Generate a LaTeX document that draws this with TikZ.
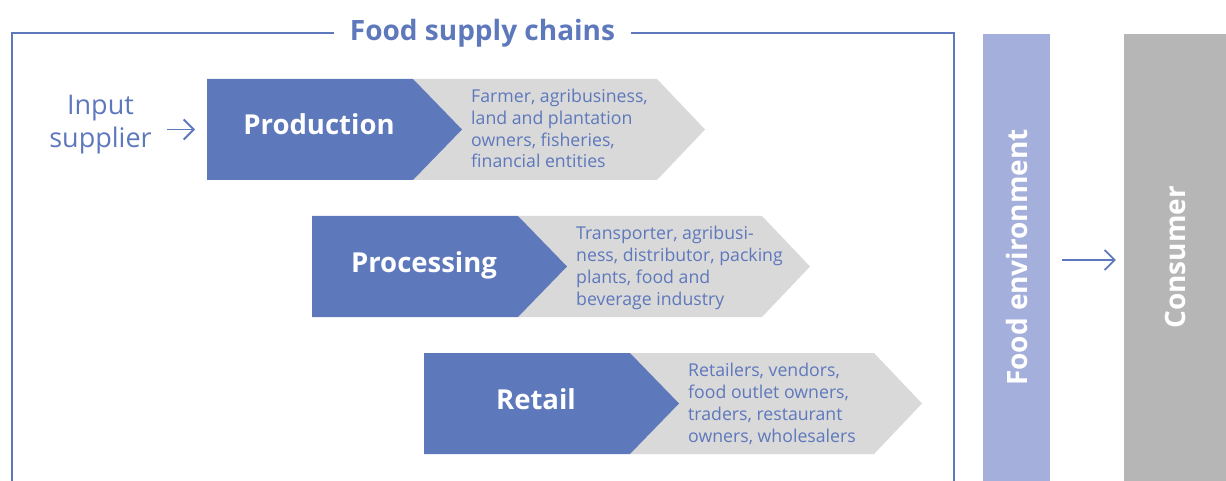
\documentclass[tikz,border=0pt]{standalone}
\usepackage{fontspec}
\setmainfont{Open Sans}
\usetikzlibrary{arrows.meta}

\definecolor{chainblue}{HTML}{5E78BC}
\definecolor{stagegray}{HTML}{D9D9D9}
\definecolor{envblue}{HTML}{A5AFDB}
\definecolor{consgray}{HTML}{B5B6B5}

% one stage: blue chevron with its name, grey chevron with the actors
% #1 = left x, #2 = top y, #3 = node name, #4 = stage name, #5 = actors
\newcommand\chainstage[5]{%
  \fill[stagegray] (#1+206,#2) -- (#1+450,#2) -- (#1+498,#2+50.5)
     -- (#1+450,#2+101) -- (#1+206,#2+101) -- cycle;
  \fill[chainblue] (#1,#2) -- (#1+206,#2) -- (#1+255,#2+50.5)
     -- (#1+206,#2+101) -- (#1,#2+101) -- cycle;
  \coordinate (#3-in) at (#1,#2+50.5);
  \node[stagetitle] (#3) at (#1+112,#2+56) {#4};
  % base of a multi-line node is the baseline of its last line
  \node[stagedesc] (#3-desc) at (#1+264,#2+89) {#5};
}

\begin{document}
\begin{tikzpicture}[x=1pt,y=-1pt,
  stagetitle/.style={anchor=base,inner sep=0pt,text=white,
    font=\fontsize{27.5}{33}\selectfont\bfseries},
  stagedesc/.style={anchor=base west,inner sep=0pt,align=left,text=chainblue,
    font=\fontsize{17.7}{21.7}\selectfont},
  frameline/.style={draw=chainblue,line width=1.8pt},
  flow/.style={draw=chainblue,line width=1.8pt,
    -{Straight Barb[length=10pt,width=20pt,line width=1.8pt]}},
  bar/.style={inner sep=0pt,text=white,minimum height=447pt,
    font=\fontsize{28}{33}\selectfont\bfseries}]
\useasboundingbox (0,0) rectangle (1226,481);

% frame around the supply chain, open at the bottom
\node[anchor=base,inner xsep=16pt,inner ysep=0pt,text=chainblue,
  font=\fontsize{28}{33}\selectfont\bfseries] (title) at (482.5,41) {Food supply chains};
\draw[frameline] (title.west |- 0,33) -- (12,33) -- (12,495);
\draw[frameline] (title.east |- 0,33) -- (954,33) -- (954,495);

% the three stages
\chainstage{207}{79}{prod}{Production}{Farmer, agribusiness,\\land and plantation\\owners, fisheries,\\financial entities}
\chainstage{312}{216}{proc}{Processing}{Transporter, agribusi-\\ness, distributor, packing\\plants, food and\\beverage industry}
\chainstage{424}{353}{retail}{Retail}{Retailers, vendors,\\food outlet owners,\\traders, restaurant\\owners, wholesalers}

% input supplier
\node[anchor=base,align=center,inner sep=0pt,text=chainblue,
  font=\fontsize{27}{33}\selectfont] (input) at (100.5,148) {Input\\supplier};
\draw[flow,shorten <=15pt,shorten >=12pt] (input.east |- prod-in) -- (prod-in);

% food environment and consumer bars
\node[bar,fill=envblue,minimum width=67pt] (fenv) at (1016.5,257.5)
  {\rotatebox{90}{Food environment}};
\node[bar,fill=consgray,minimum width=102pt] (cons) at (1175,257.5)
  {\rotatebox{90}{Consumer}};
\draw[flow] ([shift={(12,2.5)}]fenv.east) -- ([shift={(-8,2.5)}]cons.west);
\end{tikzpicture}
\end{document}
